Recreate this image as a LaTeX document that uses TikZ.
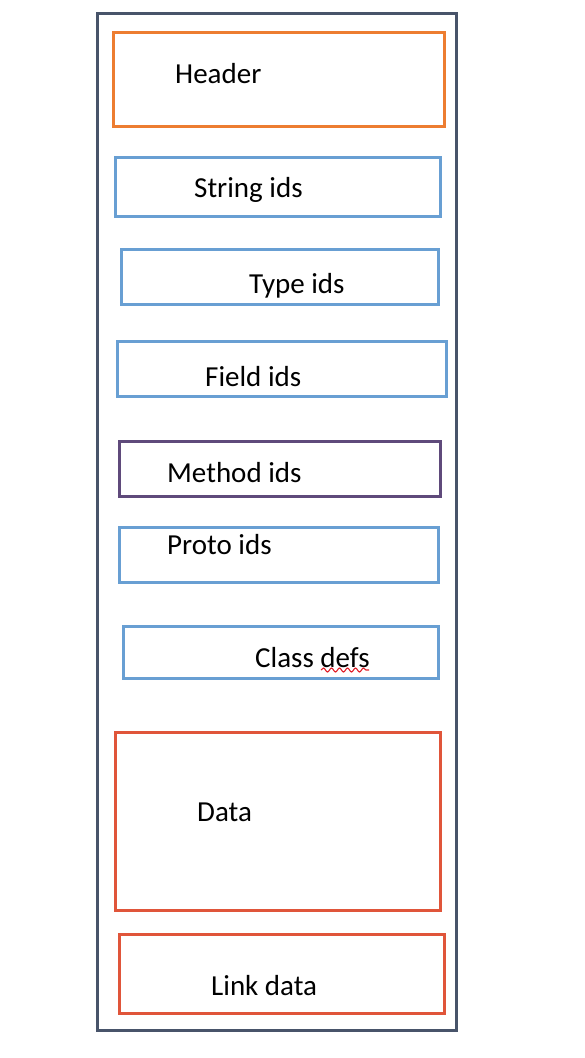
\documentclass[tikz,border=0pt]{standalone}
\usepackage{fontspec}
\setmainfont{Carlito}
\usetikzlibrary{decorations.pathmorphing}
\definecolor{frame}{HTML}{48546A}
\definecolor{hdr}{HTML}{ED7D31}
\definecolor{ids}{HTML}{689FD3}
\definecolor{meth}{HTML}{5F4A7B}
\definecolor{dat}{HTML}{E0553A}
\definecolor{spell}{HTML}{E0202A}
\begin{document}
\begin{tikzpicture}[x=1pt,y=-1pt,
  box/.style={draw,line width=3pt,inner sep=0pt,rectangle},
  lbl/.style={anchor=base west,inner sep=0pt,font=\fontsize{29pt}{34pt}\selectfont}]
\useasboundingbox (0,0) rectangle (584,1058);
\node[box,draw=frame,minimum width=359pt,minimum height=1017pt] (outer) at (276.5,521.5) {};
\node[box,draw=hdr,minimum width=331pt,minimum height=94pt] (header) at (278.5,79) {};
\node[box,draw=ids,minimum width=325pt,minimum height=59pt] (string) at (277.5,186.5) {};
\node[box,draw=ids,minimum width=317pt,minimum height=55pt] (type) at (279.5,276.5) {};
\node[box,draw=ids,minimum width=329pt,minimum height=55pt] (field) at (281.5,368.5) {};
\node[box,draw=meth,minimum width=321pt,minimum height=55pt] (method) at (279.5,468.5) {};
\node[box,draw=ids,minimum width=319pt,minimum height=55pt] (proto) at (278.5,554.5) {};
\node[box,draw=ids,minimum width=315pt,minimum height=52pt] (class) at (280.5,652) {};
\node[box,draw=dat,minimum width=325pt,minimum height=178pt] (data) at (277.5,821) {};
\node[box,draw=dat,minimum width=325pt,minimum height=79pt] (link) at (281.5,973.5) {};
\node[lbl] (theader) at (175,83) {Header};
\node[lbl] (tstring) at (194,197) {String ids};
\node[lbl] (ttype) at (249,293) {Type ids};
\node[lbl] (tfield) at (205,386) {Field ids};
\node[lbl] (tmethod) at (167,482) {Method ids};
\node[lbl] (tproto) at (167,554) {Proto ids};
\node[lbl] (tclass) at (255,667) {Class defs};
\node[lbl] (tdata) at (197,821) {Data};
\node[lbl] (tlink) at (211,995) {Link data};
\coordinate (sq1) at (321,670);
\coordinate (sq2) at (369,670);
\draw[spell,line width=1.1pt,decorate,decoration={snake,segment length=8pt,amplitude=2pt}] (sq1) -- (sq2);
\end{tikzpicture}
\end{document}
